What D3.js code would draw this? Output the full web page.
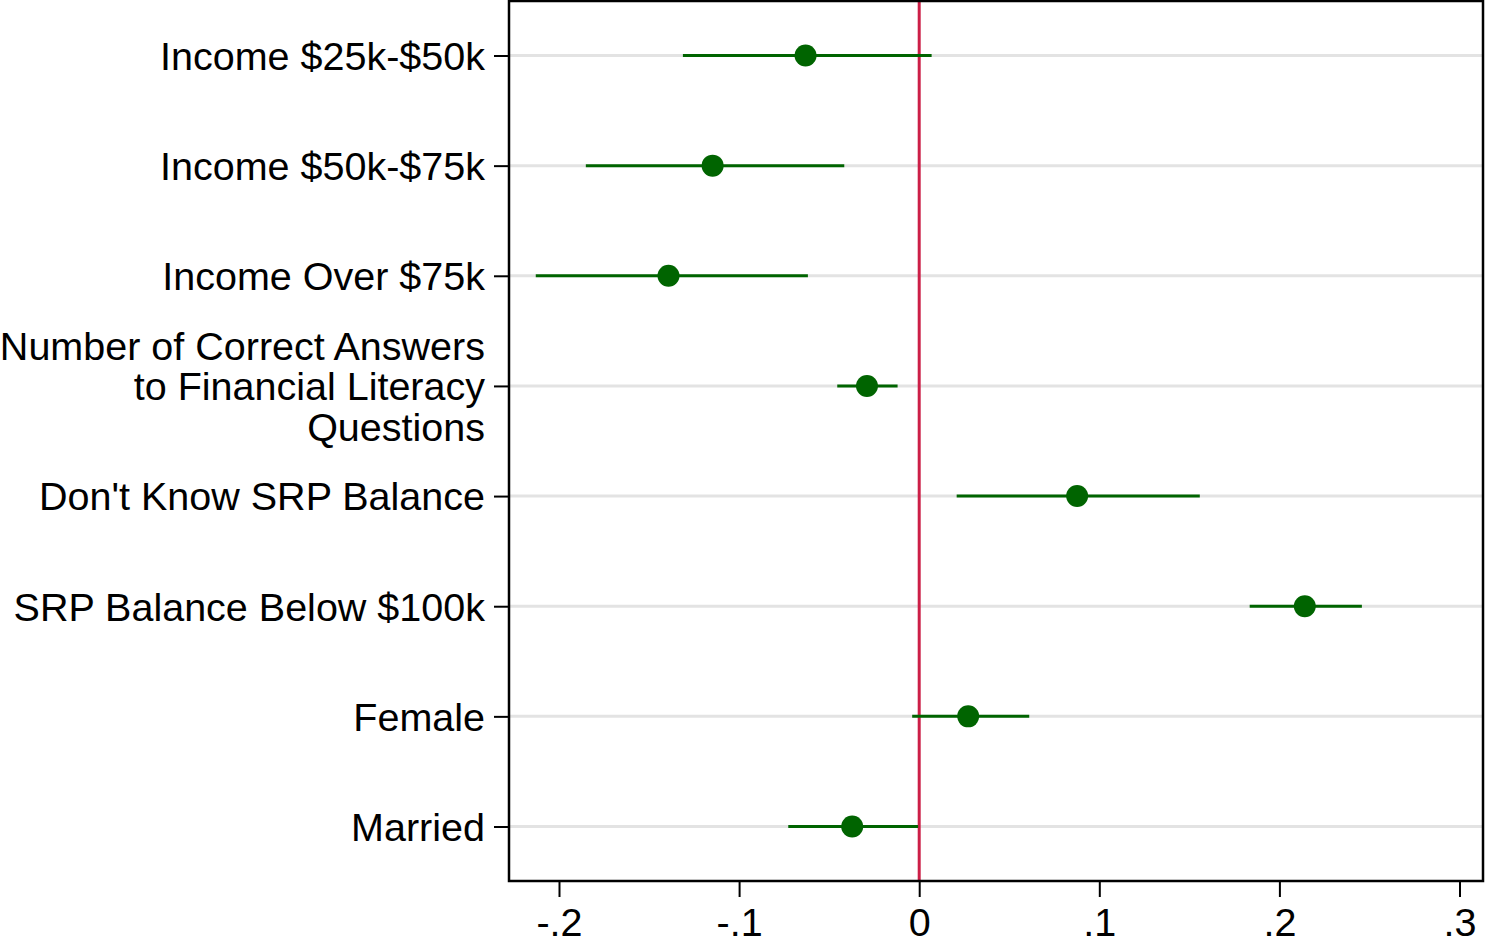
<!DOCTYPE html>
<html>
<head>
<meta charset="utf-8">
<script src="https://cdn.jsdelivr.net/npm/d3@7"></script>
<style>
  html, body { margin: 0; padding: 0; background: #fff; }
  svg { display: block; }
  text { font-family: "Liberation Sans", Arial, Helvetica, sans-serif; fill: #000; }
</style>
</head>
<body>
<svg id="chart" width="1485" height="943"></svg>
<script>
// Coefficient estimates with 95% confidence intervals
const categories = [
  "Income $25k-$50k",
  "Income $50k-$75k",
  "Income Over $75k",
  "Number of Correct Answers|to Financial Literacy|Questions",
  "Don't Know SRP Balance",
  "SRP Balance Below $100k",
  "Female",
  "Married"
];
const estimates = [-0.0631, -0.1147, -0.1392, -0.0290, 0.0877, 0.2141, 0.0272, -0.0372];
const ciLower   = [-0.1312, -0.1851, -0.2129, -0.0455, 0.0208, 0.1835, -0.0039, -0.0727];
const ciUpper   = [ 0.0069, -0.0416, -0.0618, -0.0120, 0.1558, 0.2458, 0.0611, -0.0006];
const xTicks = [-0.2, -0.1, 0, 0.1, 0.2, 0.3];
const xTickLabels = ["-.2", "-.1", "0", ".1", ".2", ".3"];

const svg = d3.select("#chart");
const plot = { left: 509, right: 1483, top: 1, bottom: 881 };
const fontSize = 39.5;

const x = d3.scaleLinear()
  .domain([-0.2, 0.3])
  .range([559, 1459.5]);

const y = d3.scalePoint()
  .domain(categories)
  .range([55.5, 826.5]);

const rows = categories.map((c, i) => ({
  cat: c, est: estimates[i], lo: ciLower[i], hi: ciUpper[i]
}));

// horizontal gridlines at each coefficient row
svg.append("g")
  .selectAll("line")
  .data(categories)
  .join("line")
  .attr("x1", plot.left).attr("x2", plot.right)
  .attr("y1", d => y(d)).attr("y2", d => y(d))
  .attr("stroke", "#e3e3e3")
  .attr("stroke-width", 3);

// reference line at zero
svg.append("line")
  .attr("x1", x(0)).attr("x2", x(0))
  .attr("y1", plot.top).attr("y2", plot.bottom)
  .attr("stroke", "#cc1f47")
  .attr("stroke-width", 3);

// confidence intervals
svg.append("g")
  .selectAll("line")
  .data(rows)
  .join("line")
  .attr("x1", d => x(d.lo)).attr("x2", d => x(d.hi))
  .attr("y1", d => y(d.cat)).attr("y2", d => y(d.cat))
  .attr("stroke", "#006400")
  .attr("stroke-width", 3);

// point estimates
svg.append("g")
  .selectAll("circle")
  .data(rows)
  .join("circle")
  .attr("cx", d => x(d.est))
  .attr("cy", d => y(d.cat))
  .attr("r", 11)
  .attr("fill", "#006400");

// plot frame
svg.append("rect")
  .attr("x", plot.left).attr("y", plot.top)
  .attr("width", plot.right - plot.left)
  .attr("height", plot.bottom - plot.top)
  .attr("fill", "none")
  .attr("stroke", "#000")
  .attr("stroke-width", 2.5);

// x axis
const xAxis = d3.axisBottom(x)
  .tickValues(xTicks)
  .tickFormat((d, i) => xTickLabels[i])
  .tickSize(16)
  .tickPadding(11);

const gx = svg.append("g")
  .attr("transform", `translate(0,${plot.bottom})`)
  .call(xAxis);
gx.select(".domain").remove();
gx.selectAll(".tick line").attr("stroke", "#000").attr("stroke-width", 2);
gx.selectAll(".tick text")
  .attr("font-size", fontSize)
  .attr("font-family", "'Liberation Sans', Arial, sans-serif")
  .attr("fill", "#000");

// y axis
const yAxis = d3.axisLeft(y)
  .tickSize(15)
  .tickPadding(9)
  .tickFormat("");

const gy = svg.append("g")
  .attr("transform", `translate(${plot.left},0)`)
  .call(yAxis);
gy.select(".domain").remove();
gy.selectAll(".tick line").attr("stroke", "#000").attr("stroke-width", 2);

// multi-line category labels, right-aligned against the ticks
const lineHeight = 40.5;
gy.selectAll(".tick").each(function(d) {
  const lines = d.split("|");
  const t = d3.select(this).append("text")
    .attr("text-anchor", "end")
    .attr("font-size", fontSize)
    .attr("fill", "#000")
    .attr("x", -24);
  lines.forEach((ln, k) => {
    t.append("tspan")
      .attr("x", -24)
      .attr("y", (k - (lines.length - 1) / 2) * lineHeight)
      .attr("dy", "0.35em")
      .text(ln);
  });
});
</script>
</body>
</html>
